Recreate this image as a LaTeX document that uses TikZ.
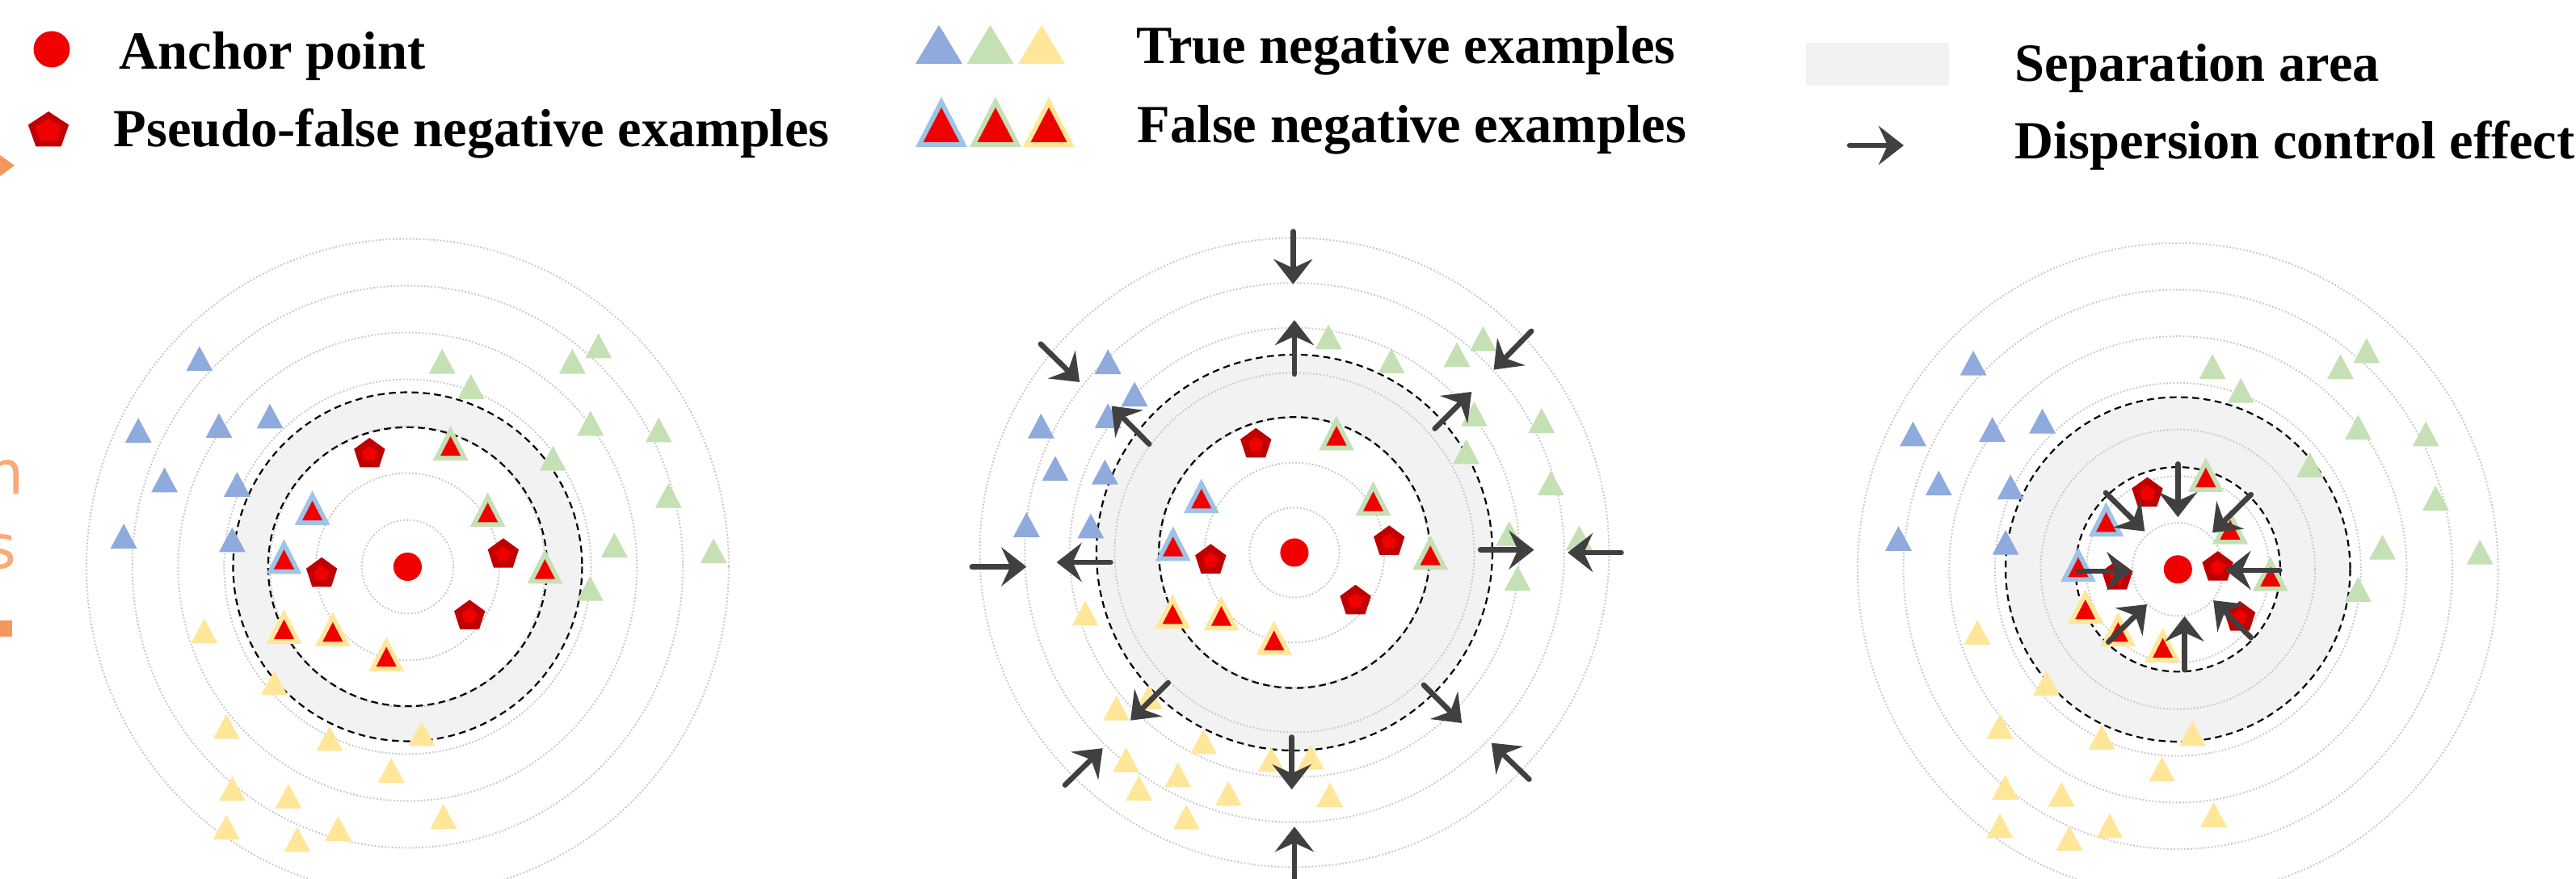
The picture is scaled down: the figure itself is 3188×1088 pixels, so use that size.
\documentclass[tikz,border=0pt]{standalone}
\usepackage{fontspec}
\setmainfont{Liberation Serif}
\newfontfamily\orfont{DejaVu Sans}
\usetikzlibrary{arrows.meta}
\definecolor{tnblue}{HTML}{8FAADC}
\definecolor{tngreen}{HTML}{C5E0B4}
\definecolor{tnyellow}{HTML}{FFE699}
\definecolor{fnblue}{HTML}{9DC3E6}
\definecolor{ancred}{HTML}{F00000}
\definecolor{pentdark}{HTML}{C00000}
\definecolor{arrowgray}{HTML}{404040}
\definecolor{bandgray}{HTML}{F2F2F2}
\definecolor{ringgray}{HTML}{C8C8C8}
\definecolor{orangeA}{HTML}{F8AA78}
\definecolor{orangeB}{HTML}{F4975C}
% panel-unit shapes
\newcommand\tnTri[3]{\fill[#3] (#1,#2) ++(0,-28) -- ++(30,56) -- ++(-60,0) -- cycle;}
\newcommand\fnTri[3]{\fill[#3] (#1,#2) ++(0,-39) -- ++(40,78) -- ++(-80,0) -- cycle;
  \fill[ancred] (#1,#2) ++(0,-16) -- ++(23,44.5) -- ++(-46,0) -- cycle;}
\newcommand\pentP[2]{\fill[pentdark] (#1,#2+3.5) +(-90:36.8) -- +(-18:36.8) -- +(54:36.8) -- +(126:36.8) -- +(198:36.8) -- cycle;
  \fill[ancred] (#1,#2+3.5) +(-90:18) -- +(-18:18) -- +(54:18) -- +(126:18) -- +(198:18) -- cycle;}
\tikzset{
  ringline/.style={ringgray, line width=0.02cm, dash pattern=on 0.018cm off 0.024cm},
  dashring/.style={black, line width=0.022cm, dash pattern=on 0.085cm off 0.055cm},
  disp/.style={arrowgray, line width=0.066cm, line cap=round, -{Stealth[length=0.31cm,width=0.48cm,inset=0.11cm]}},
  lgtext/.style={inner sep=0pt, anchor=base west, font=\fontsize{18.9}{22}\selectfont\bfseries},
  ortext/.style={inner sep=0pt, anchor=base east, text=orangeA, font=\orfont\fontsize{21.3}{24}\selectfont}
}
\begin{document}
\begin{tikzpicture}[x=0.01cm, y=-0.01cm]
\useasboundingbox (0,0) rectangle (3188,1088);
\clip (0,0) rectangle (3188,1088);
\fill[white] (0,0) rectangle (3188,1088);

% ---------- fragments at the left edge ----------
\fill[orangeB] (18,205) -- (-17,180) -- (-17,230) -- cycle;
\node[ortext] (frh) at (31,611) {h};
\node[ortext] (frs) at (21,703) {s};
\fill[orangeB] (-10,768) rectangle (15,788);

% ---------- legend ----------
\fill[ancred] (64,61) circle (22.5);
\fill[pentdark] (60,162) +(-90:26.5 and 24) -- +(-18:26.5 and 24) -- +(54:26.5 and 24) -- +(126:26.5 and 24) -- +(198:26.5 and 24) -- cycle;
\fill[ancred] (60,162) +(-90:17 and 15.4) -- +(-18:17 and 15.4) -- +(54:17 and 15.4) -- +(126:17 and 15.4) -- +(198:17 and 15.4) -- cycle;
\node[lgtext] (lanchor) at (147,86) {Anchor point};
\node[lgtext] (lpseudo) at (140,182) {Pseudo-false negative examples};

\foreach \x/\c in {1162/tnblue,1225.5/tngreen,1289/tnyellow}
  {\fill[\c] (\x,31) -- (\x+29,79) -- (\x-29,79) -- cycle;}
\foreach \x/\c in {1165/fnblue,1232/tngreen,1298/tnyellow}
  {\fill[\c] (\x,120) -- (\x+32,182) -- (\x-32,182) -- cycle;
   \fill[ancred] (\x,133) -- (\x+22.5,176) -- (\x-22.5,176) -- cycle;}
\node[lgtext] (ltrue) at (1406,79) {True negative examples};
\node[lgtext] (lfalse) at (1407,177) {False negative examples};

\fill[bandgray] (2235,53) rectangle (2412,106);
\coordinate (la1) at (2289,180);
\coordinate (la2) at (2356,180);
\draw[disp] (la1) -- (la2);
\node[lgtext] (lsep) at (2493,101) {Separation area};
\node[lgtext] (ldisp) at (2493,197) {Dispersion control effect};

% ---------- panel 1 ----------
\begin{scope}[shift={(0.78cm,-2.30cm)}, x=0.0054719cm, y=-0.0054719cm]
  \coordinate (c1) at (778,860);
  \fill[bandgray, even odd rule] (c1) circle (394) (c1) circle (315);
  \foreach \k in {1,...,7} {\draw[ringline] (c1) ellipse [x radius=103.6*\k, y radius=105.8*\k];}
  \draw[dashring] (c1) circle (315);
  \draw[dashring] (c1) circle (394);
  \foreach \x/\y in {308/390,170/552,352/541,467/520,229/664,393/674,137/791,382/799} {\tnTri{\x}{\y}{tnblue}}
  \foreach \x/\y in {856/396,921/453,1150/396,1209/361,1191/536,1345/551,1106/615,1367/699,1245/811,1469/824,1190/909} {\tnTri{\x}{\y}{tngreen}}
  \foreach \x/\y in {319/1005,477/1122,369/1221,602/1248,810/1237,741/1320,382/1361,509/1378,859/1424,369/1448,529/1476,621/1451} {\tnTri{\x}{\y}{tnyellow}}
  \foreach \x/\y in {563/727,499/837} {\fnTri{\x}{\y}{fnblue}}
  \foreach \x/\y in {875/581,959/731,1088/859} {\fnTri{\x}{\y}{tngreen}}
  \foreach \x/\y in {499/995,609/1001,730/1057} {\fnTri{\x}{\y}{tnyellow}}
  \foreach \x/\y in {692/602,584/872,994/829,918/968} {\pentP{\x}{\y}}
  \fill[ancred] (c1) circle (32);
\end{scope}

% ---------- panel 2 ----------
\begin{scope}[shift={(11.71cm,-2.30cm)}, x=0.0054719cm, y=-0.0054719cm]
  \coordinate (c2) at (785,828);
  \fill[bandgray, even odd rule] (c2) circle (447) (c2) circle (306);
  \foreach \k in {1,...,7} {\draw[ringline] (c2) circle (101.5*\k);}
  \draw[dashring] (c2) circle (306);
  \draw[dashring] (c2) circle (447);
  \foreach \x/\y in {364/397,424/470,213/542,364/519,245/638,357/646,180/765,325/768} {\tnTri{\x}{\y}{tnblue}}
  \foreach \x/\y in {862/341,1004/395,1152/381,1211/345,1191/515,1343/530,1173/600,1364/671,1270/785,1428/795,1289/886} {\tnTri{\x}{\y}{tngreen}}
  \foreach \x/\y in {313/965,457/1154,383/1179,580/1255,733/1295,822/1290,405/1296,522/1330,434/1360,636/1372,865/1375,541/1425} {\tnTri{\x}{\y}{tnyellow}}
  \foreach \x/\y in {575/700,511/808} {\fnTri{\x}{\y}{fnblue}}
  \foreach \x/\y in {880/558,963/706,1092/828} {\fnTri{\x}{\y}{tngreen}}
  \foreach \x/\y in {510/961,620/965,739/1020} {\fnTri{\x}{\y}{tnyellow}}
  \foreach \x/\y in {698/580,596/842,999/800,923/934} {\pentP{\x}{\y}}
  \fill[ancred] (c2) circle (32);
  \foreach \ax/\ay/\bx/\by in {782/103/782/222, 785/425/785/303, 212/357/300/443, 457/583/372/497,
      1320/328/1235/415, 1102/548/1185/465, 57/860/180/860, 370/850/248/850,
      1205/822/1326/822, 1523/828/1402/828, 500/1122/415/1207, 267/1353/352/1270,
      1077/1127/1163/1213, 1315/1340/1230/1258, 779/1245/779/1363, 785/1600/785/1447}
    {\draw[disp] (\ax,\ay) -- (\bx,\by);}
\end{scope}

% ---------- panel 3 ----------
\begin{scope}[shift={(22.61cm,-2.30cm)}, x=0.0054719cm, y=-0.0054719cm]
  \coordinate (c3) at (790,866);
  \fill[bandgray, even odd rule] (c3) circle (389) (c3) circle (231);
  \foreach \k in {1,...,7} {\draw[ringline] (c3) ellipse [x radius=103.3*\k, y radius=105.3*\k];}
  \draw[dashring] (c3) circle (231);
  \draw[dashring] (c3) circle (389);
  \foreach \x/\y in {328/400,192/560,371/550,484/531,250/671,412/680,159/796,401/805} {\tnTri{\x}{\y}{tnblue}}
  \foreach \x/\y in {868/408,932/462,1157/408,1216/372,1197/545,1350/560,1088/630,1372/705,1252/816,1472/827,1197/911} {\tnTri{\x}{\y}{tngreen}}
  \foreach \x/\y in {337/1008,493/1123,388/1221,618/1245,823/1237,754/1317,400/1358,527/1374,871/1420,388/1445,545/1473,636/1445} {\tnTri{\x}{\y}{tnyellow}}
  \foreach \x/\y in {628/753,565/855} {\fnTri{\x}{\y}{fnblue}}
  \foreach \x/\y in {853/652,908/770,999/876} {\fnTri{\x}{\y}{tngreen}}
  \foreach \x/\y in {581/950,655/1001,756/1037} {\fnTri{\x}{\y}{tnyellow}}
  \foreach \x/\y in {721/691,653/878,880/858,930/971} {\pentP{\x}{\y}}
  \fill[ancred] (c3) circle (32);
  \foreach \ax/\ay/\bx/\by in {790/628/790/748, 627/693/715/780, 955/697/868/783, 565/870/686/870,
      1020/868/898/868, 633/1030/720/945, 955/1020/870/936, 805/1093/805/972}
    {\draw[disp] (\ax,\ay) -- (\bx,\by);}
\end{scope}
\end{tikzpicture}
\end{document}
